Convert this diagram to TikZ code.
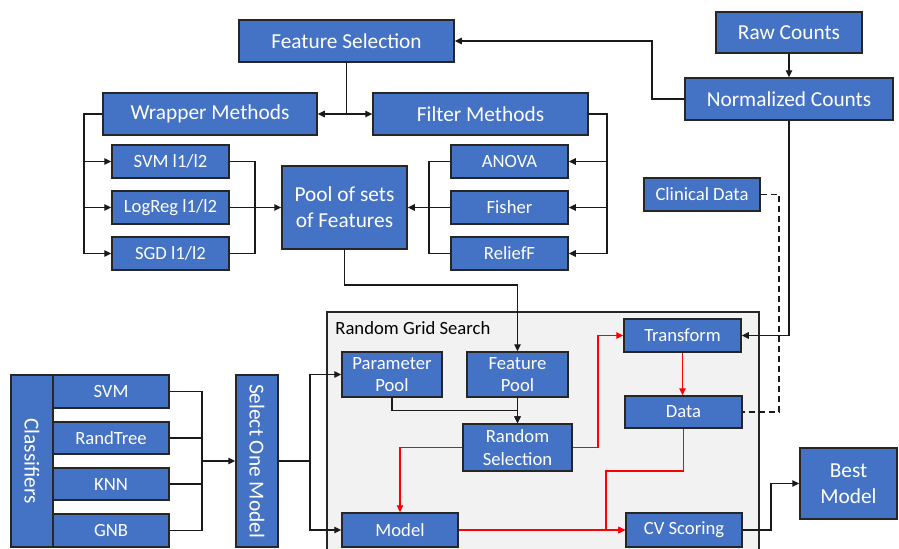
\documentclass[tikz,border=0pt]{standalone}
\usepackage{fontspec}
\setmainfont{Carlito}
\usetikzlibrary{arrows.meta,positioning,calc}
\definecolor{BoxBlue}{HTML}{4472C4}
\definecolor{Edge}{HTML}{262626}
\definecolor{Wire}{HTML}{1A1A1A}
\definecolor{GridBg}{HTML}{F2F2F2}
\definecolor{Flow}{HTML}{FF0000}

\begin{document}
\begin{tikzpicture}[x=0.5pt,y=-0.5pt,>={Triangle[length=3.5pt,width=3.2pt]},
  blk/.style={draw=Edge,fill=BoxBlue,text=white,line width=0.75pt,inner sep=0pt,align=center},
  sm/.style={font=\fontsize{9.33}{11.3}\selectfont},
  lg/.style={font=\fontsize{10.67}{13}\selectfont},
  wire/.style={draw=Wire,line width=0.65pt},
  flow/.style={draw=Flow,line width=0.65pt}]
\useasboundingbox (0,0) rectangle (899,548);
\clip (0,0) rectangle (899,548);
\fill[white] (0,0) rectangle (899,548);
% feature selection part
\node[blk,lg,minimum width=107.5pt,minimum height=21pt] (featsel) at (346.5,41) {Feature Selection};
\node[blk,lg,minimum width=107pt,minimum height=21pt] (wrapper) at (210,114) {Wrapper Methods};
\node[blk,lg,minimum width=107.5pt,minimum height=21pt] (filter) at (480.5,114) {Filter Methods};
\node[blk,sm,minimum width=58.5pt,minimum height=16.5pt] (svmsel) at (170.5,161.5) {SVM l1/l2};
\node[blk,sm,minimum width=58.5pt,minimum height=16.5pt] (logregsel) at (170.5,207.5) {LogReg l1/l2};
\node[blk,sm,minimum width=58.5pt,minimum height=16.5pt] (sgdsel) at (170.5,253.5) {SGD l1/l2};
\node[blk,sm,minimum width=58.5pt,minimum height=16.5pt] (anova) at (509.5,161.5) {ANOVA};
\node[blk,sm,minimum width=58.5pt,minimum height=16.5pt] (fisher) at (509.5,207.5) {Fisher};
\node[blk,sm,minimum width=58.5pt,minimum height=16.5pt] (relieff) at (509.5,253.5) {ReliefF};
\node[blk,lg,minimum width=62.5pt,minimum height=41.5pt] (pool) at (344.5,207.5) {Pool of sets\\of Features};
% counts
\node[blk,lg,minimum width=73pt,minimum height=20.5pt] (raw) at (789,32.5) {Raw Counts};
\node[blk,lg,minimum width=104pt,minimum height=21pt] (norm) at (789,99) {Normalized Counts};
\node[blk,sm,minimum width=58pt,minimum height=16.5pt] (clinical) at (702,194.5) {Clinical Data};
% random grid search
\node[draw=Edge,fill=GridBg,line width=0.75pt,minimum width=216pt,minimum height=124pt] (rgs) at (543,436) {};
\node[sm,anchor=base west,inner sep=0pt] (rgslabel) at (335,334) {Random Grid Search};
\node[blk,sm,minimum width=50pt,minimum height=22.5pt] (paramp) at (392,374.5) {Parameter\\Pool};
\node[blk,sm,minimum width=50.5pt,minimum height=22.5pt] (featp) at (517.5,374.5) {Feature\\Pool};
\node[blk,sm,minimum width=54.5pt,minimum height=23.5pt] (randsel) at (517.5,447.5) {Random\\Selection};
\node[blk,sm,minimum width=58.5pt,minimum height=16.5pt] (transform) at (682.5,335.5) {Transform};
\node[blk,sm,minimum width=58.5pt,minimum height=16pt] (data) at (683.5,412) {Data};
\node[blk,sm,minimum width=58pt,minimum height=17pt] (model) at (400,530) {Model};
\node[blk,sm,minimum width=58pt,minimum height=17pt] (cvs) at (684,530) {CV Scoring};
\node[blk,lg,minimum width=48.5pt,minimum height=35.5pt] (best) at (848.5,483.5) {Best\\Model};
% classifiers
\node[blk,lg,rotate=-90,minimum width=86pt,minimum height=21pt] (classif) at (32,461) {Classifiers};
\node[blk,sm,minimum width=58pt,minimum height=16.5pt] (csvm) at (111,391.5) {SVM};
\node[blk,sm,minimum width=58pt,minimum height=16pt] (crand) at (111,438) {RandTree};
\node[blk,sm,minimum width=58pt,minimum height=16pt] (cknn) at (111,484) {KNN};
\node[blk,sm,minimum width=58pt,minimum height=16.5pt] (cgnb) at (111,530.5) {GNB};
\node[blk,lg,rotate=-90,minimum width=86pt,minimum height=21pt] (selone) at (257,461) {Select One Model};

% connectors
\coordinate (fsj) at (featsel.south |- wrapper.east);
\draw[wire] (featsel.south) -- (fsj);
\draw[wire,->] (fsj) -- (wrapper.east);
\draw[wire,->] (fsj) -- (filter.west);
\coordinate (wl) at (84,114);
\draw[wire,->] (wrapper.west) -- (wl) |- (sgdsel.west);
\draw[wire,->] (wl |- svmsel.west) -- (svmsel.west);
\draw[wire,->] (wl |- logregsel.west) -- (logregsel.west);
\coordinate (wr) at (255,161.5);
\draw[wire] (svmsel.east) -- (wr) |- (sgdsel.east);
\draw[wire,->] (logregsel.east) -- (pool.west);
\coordinate (fr) at (607,114);
\draw[wire,->] (filter.east) -- (fr) |- (relieff.east);
\draw[wire,->] (fr |- anova.east) -- (anova.east);
\draw[wire,->] (fr |- fisher.east) -- (fisher.east);
\coordinate (fl) at (429,161.5);
\draw[wire] (anova.west) -- (fl) |- (relieff.west);
\draw[wire,->] (fisher.west) -- (pool.east);
\coordinate (pj) at (344,285);
\draw[wire,->] (pool.south) -- (pool.south |- pj) -| (featp.north);
\coordinate (pm) at ($(featp.south)!0.5!(randsel.north)$);
\draw[wire,->] (paramp.south) |- (pm) -- (randsel.north);
\draw[wire,->] (featp.south) -- (randsel.north);
% red flow
\coordinate (rx) at (598,447.5);
\draw[flow,->] (randsel.east) -- (rx) |- (transform.west);
\draw[flow,->] (randsel.west) -| (model.north);
\draw[flow,->] (transform.south) -- (transform.south |- data.north);
\coordinate (dj) at (606,471);
\draw[flow,->] (data.south) |- (dj) |- (cvs.west);
\draw[flow,->] (model.east) -- (cvs.west);
\coordinate (bx) at (771,530);
\draw[wire,->] (cvs.east) -- (bx) |- (best.west);
% counts
\draw[wire,->] (raw.south) -- (norm.north);
\coordinate (nx) at (652,99);
\draw[wire,->] (norm.west) -- (nx) |- (featsel.east);
\draw[wire,->] (norm.south) |- (transform.east);
\coordinate (cx) at (779,194.5);
\draw[wire,dash pattern=on 3pt off 2pt] (clinical.east) -- (cx) |- (data.east);
% classifiers
\coordinate (cj) at (202,461);
\draw[wire] (csvm.east) -| (cj |- cgnb.east) -- (cgnb.east);
\draw[wire] (crand.east) -- (crand.east -| cj);
\draw[wire] (cknn.east) -- (cknn.east -| cj);
\draw[wire,->] (cj) -- (selone);
\coordinate (sj) at (310,461);
\draw[wire] (selone) -- (sj);
\draw[wire,->] (sj) |- (paramp.west);
\draw[wire,->] (sj) |- (model.west);
\end{tikzpicture}
\end{document}
